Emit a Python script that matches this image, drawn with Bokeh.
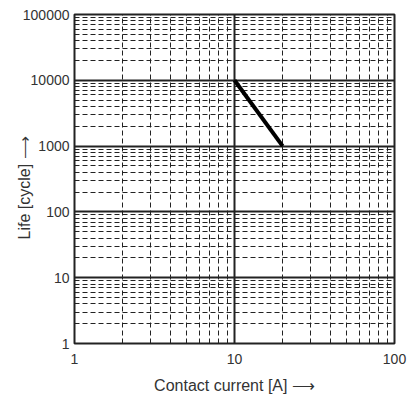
from bokeh.plotting import figure
from bokeh.models import FixedTicker, PrintfTickFormatter, Range1d
from bokeh.embed import file_html
from bokeh.resources import INLINE

# Data
current = [10, 20]
life = [10000, 1000]
x_major = [1, 10, 100]
y_major = [1, 10, 100, 1000, 10000, 100000]
x_minor = [m * d for d in [1, 10] for m in range(2, 10)]
y_minor = [m * d for d in [1, 10, 100, 1000, 10000] for m in range(2, 10)]
x_title = "Contact current [A] \u27f6"
y_title = "Life [cycle] \u27f6\u00a0\u00a0\u00a0\u00a0"

FONT = "Liberation Sans"
TXT = "#333333"

p = figure(width=411, height=397, x_axis_type="log", y_axis_type="log",
           x_range=Range1d(1, 100), y_range=Range1d(1, 100000),
           output_backend="svg", toolbar_location=None,
           min_border_left=74, min_border_right=17, min_border_top=14, min_border_bottom=54)

p.xaxis.ticker = FixedTicker(ticks=x_major, minor_ticks=x_minor)
p.yaxis.ticker = FixedTicker(ticks=y_major, minor_ticks=y_minor)
p.xaxis.formatter = PrintfTickFormatter(format="%d")
p.yaxis.formatter = PrintfTickFormatter(format="%d")

for ax in (p.xaxis, p.yaxis):
    ax.axis_line_color = None
    ax.major_tick_line_color = None
    ax.minor_tick_line_color = None
    ax.major_tick_out = 0
    ax.minor_tick_out = 0
    ax.major_label_text_font = FONT
    ax.major_label_text_font_size = "14px"
    ax.major_label_text_color = TXT
    ax.axis_label_text_font = FONT
    ax.axis_label_text_font_size = "16px"
    ax.axis_label_text_font_style = "normal"
    ax.axis_label_text_color = TXT

p.xaxis.axis_label = x_title
p.yaxis.axis_label = y_title
p.xaxis.major_label_standoff = 10
p.yaxis.major_label_standoff = 5
p.xaxis.axis_label_standoff = 10
p.yaxis.axis_label_standoff = -13

for g in (p.xgrid, p.ygrid):
    g.grid_line_color = "#222222"
    g.grid_line_width = 2
    g.grid_line_alpha = 1
    g.minor_grid_line_color = "#222222"
    g.minor_grid_line_width = 1
    g.minor_grid_line_dash = "5 3"

p.outline_line_color = "#222222"
p.outline_line_width = 2
p.background_fill_color = "white"
p.border_fill_color = "white"

p.line(current, life, line_color="black", line_width=4)

open("out.html", "w").write(file_html(p, INLINE))
